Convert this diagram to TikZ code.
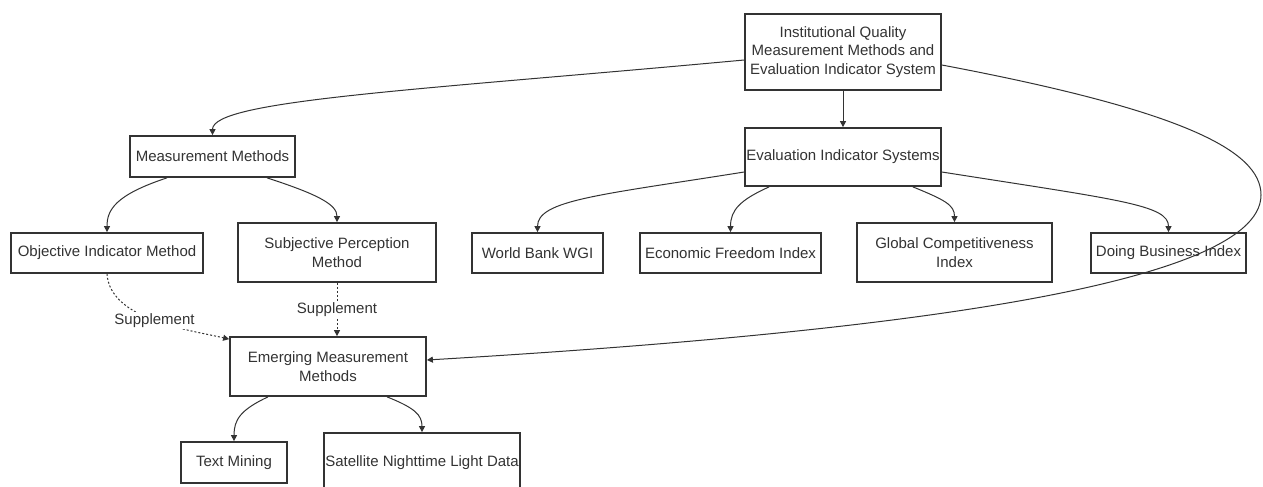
\documentclass[tikz,border=0pt]{standalone}
\usepackage{fontspec}
\setmainfont{Liberation Sans}
\usetikzlibrary{arrows.meta,calc}
\definecolor{ink}{HTML}{333333}
\begin{document}
\begin{tikzpicture}[x=0.75pt,y=-0.75pt,
  box/.style={draw=ink, line width=1.3pt, text=ink, align=center, inner sep=0pt,
    font=\fontsize{11.25pt}{13.8pt}\selectfont},
  edge/.style={draw=ink, line width=0.75pt, -{Triangle[length=4.5pt,width=4.5pt]}},
  dotedge/.style={edge, dash pattern=on 1.5pt off 1.5pt},
  lbl/.style={fill=white, text=ink, inner sep=1pt, font=\fontsize{11.25pt}{13.8pt}\selectfont}
]
\fill[white] (0,0) rectangle (1263,486);
\useasboundingbox (0,0) rectangle (1263,486);

\node[box, minimum width=147pt, minimum height=57pt] (top) at (843,52)
  {Institutional Quality\\Measurement Methods and\\Evaluation Indicator System};
\node[box, minimum width=147pt, minimum height=43.5pt] (eval) at (843,157) {Evaluation Indicator Systems};
\node[box, minimum width=123.75pt, minimum height=30.75pt] (mm) at (212.5,156.5) {Measurement Methods};
\node[box, minimum width=144pt, minimum height=30pt] (obj) at (107,253) {Objective Indicator Method};
\node[box, minimum width=148.5pt, minimum height=44.25pt] (subj) at (337,252.5) {Subjective Perception\\Method};
\node[box, minimum width=98.25pt, minimum height=30pt] (wb) at (537.5,253) {World Bank WGI};
\node[box, minimum width=135.75pt, minimum height=30pt] (ef) at (730.5,253) {Economic Freedom Index};
\node[box, minimum width=146.25pt, minimum height=44.25pt] (gc) at (954.5,252.5) {Global Competitiveness\\Index};
\node[box, minimum width=116.25pt, minimum height=30pt] (db) at (1168.5,253) {Doing Business Index};
\node[box, minimum width=147pt, minimum height=44.25pt] (em) at (328,366.5) {Emerging Measurement\\Methods};
\node[box, minimum width=79.5pt, minimum height=30.75pt] (tm) at (234,462.5) {Text Mining};
\node[box, minimum width=147pt, minimum height=45pt] (sat) at (422,463) {Satellite Nighttime Light Data};

\draw[edge] ($(top.west)+(0,8)$) .. controls (420,90) and (212.5,100) .. (mm.north);
\draw[edge] (top.south) -- (eval.north);
\draw[edge] ($(top.east)+(0,13)$) .. controls (1180,110) and (1261,150) .. (1261,195)
  .. controls (1261,290) and (850,335) .. ($(em.east)+(0,-6.5)$);
\draw[edge] ($(eval.west)+(0,15)$) .. controls (600,195) and (537.5,200) .. (wb.north);
\draw[edge] ($(eval.south west)+(25,0)$) .. controls (740,200) and (730.5,210) .. (ef.north);
\draw[edge] ($(eval.south east)+(-29,0)$) .. controls (945,200) and (954.5,205) .. (gc.north);
\draw[edge] ($(eval.east)+(0,15)$) .. controls (1120,200) and (1168.5,205) .. (db.north);
\draw[edge] ($(mm.south)+(-45.5,0)$) .. controls (115,195) and (107,210) .. (obj.north);
\draw[edge] ($(mm.south)+(54.5,0)$) .. controls (320,195) and (337,205) .. (subj.north);
\draw[dotedge] (obj.south) .. controls (110,320) and (190,330) .. node[lbl] {Supplement} ($(em.north west)+(0,3)$);
\draw[dotedge] (subj.south) -- node[lbl] {Supplement} (subj.south |- em.north);
\draw[edge] ($(em.south)+(-60,0)$) .. controls (240,410) and (234,420) .. (tm.north);
\draw[edge] ($(em.south)+(59,0)$) .. controls (415,408) and (422,415) .. (sat.north);
\end{tikzpicture}
\end{document}
